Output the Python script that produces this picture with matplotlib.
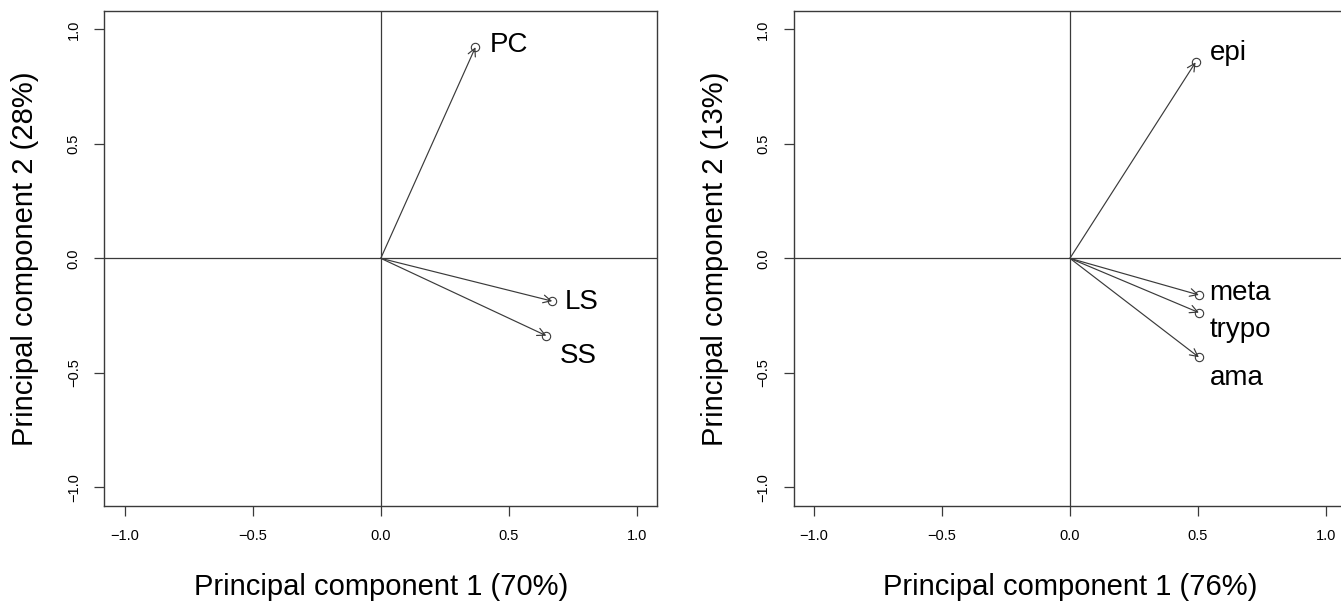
import matplotlib
matplotlib.use("Agg")
from matplotlib import pyplot as plt

plt.rcParams['font.family'] = ['Liberation Sans', 'DejaVu Sans']

# left panel: PCA loadings
left_names = ["PC", "LS", "SS"]
left_x = [0.37, 0.67, 0.647]
left_y = [0.922, -0.187, -0.338]
left_label_x = [0.426, 0.718, 0.699]
left_label_y = [0.931, -0.19, -0.425]
left_xlabel = "Principal component 1 (70%)"
left_ylabel = "Principal component 2 (28%)"

# right panel: PCA loadings
right_names = ["epi", "meta", "trypo", "ama"]
right_x = [0.491, 0.504, 0.504, 0.504]
right_y = [0.856, -0.160, -0.237, -0.432]
right_label_x = [0.546, 0.546, 0.546, 0.546]
right_label_y = [0.895, -0.152, -0.313, -0.523]
right_xlabel = "Principal component 1 (76%)"
right_ylabel = "Principal component 2 (13%)"

ticks = [-1.0, -0.5, 0.0, 0.5, 1.0]
tick_labels = ["\u22121.0", "\u22120.5", "0.0", "0.5", "1.0"]

LINE = "#3a3a3a"


def draw_panel(ax, names, xs, ys, lx, ly, xlabel, ylabel):
    ax.set_xlim(-1.08, 1.08)
    ax.set_ylim(-1.08, 1.08)
    ax.axhline(0, color=LINE, lw=0.9)
    ax.axvline(0, color=LINE, lw=0.9)
    for name, x, y, tx, ty in zip(names, xs, ys, lx, ly):
        ax.annotate("", xy=(x, y), xytext=(0, 0),
                    arrowprops=dict(arrowstyle="->,head_length=0.55,head_width=0.28",
                                    color=LINE, lw=0.85, shrinkA=0, shrinkB=0))
        ax.plot(x, y, marker="o", ms=6, mfc="none", mec=LINE, mew=0.8)
        ax.text(tx, ty, name, fontsize=20, ha="left", va="center")
    for s in ax.spines.values():
        s.set_color(LINE)
        s.set_linewidth(1.0)
    ax.set_xticks(ticks)
    ax.set_xticklabels(tick_labels)
    ax.set_yticks(ticks)
    ax.set_yticklabels(tick_labels)
    ax.tick_params(length=7, width=0.9, color=LINE, labelsize=10.5, pad=10)
    plt.setp(ax.get_yticklabels(), rotation=90, va="center")
    ax.set_xlabel(xlabel, fontsize=21)
    ax.set_ylabel(ylabel, fontsize=21)
    ax.xaxis.set_label_coords(0.5, -0.165)
    ax.xaxis.label.set_va("center")
    ax.yaxis.set_label_coords(-0.143, 0.5)
    ax.yaxis.label.set_va("center")


fig = plt.figure(figsize=(13.41, 6.02), dpi=100)
ax1 = fig.add_axes([0.0779, 0.1601, 0.4121, 0.8216])
ax2 = fig.add_axes([0.5918, 0.1601, 0.4121, 0.8216])

draw_panel(ax1, left_names, left_x, left_y, left_label_x, left_label_y,
           left_xlabel, left_ylabel)
draw_panel(ax2, right_names, right_x, right_y, right_label_x, right_label_y,
           right_xlabel, right_ylabel)

fig.savefig("out.png", dpi=100)
